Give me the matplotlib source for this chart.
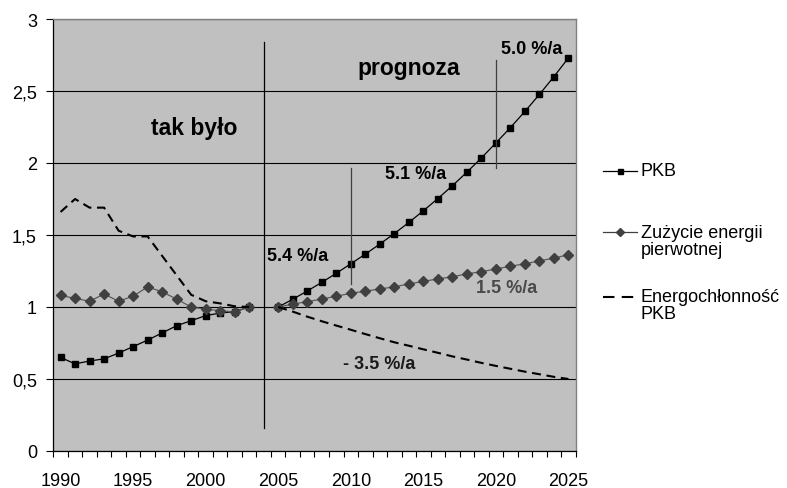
import matplotlib
matplotlib.use("Agg")
import matplotlib.pyplot as plt
from matplotlib.lines import Line2D

plt.rcParams['font.family'] = ['Liberation Sans', 'DejaVu Sans']

# ---- data (index, 2004 = 1) ----
lata_hist = list(range(1990, 2004))
lata_prog = list(range(2005, 2026))

pkb_hist = [0.65, 0.605, 0.625, 0.64, 0.68, 0.725, 0.77, 0.82, 0.87, 0.905,
            0.94, 0.958, 0.968, 1.0]
energia_hist = [1.08, 1.06, 1.04, 1.09, 1.04, 1.075, 1.14, 1.105, 1.055, 1.0,
                0.985, 0.975, 0.965, 1.0]
energochl_hist = [1.66, 1.75, 1.69, 1.69, 1.53, 1.49, 1.49, 1.355, 1.22, 1.085,
                  1.04, 1.025, 1.005, 1.0]

pkb_prog = [1.0, 1.054, 1.111, 1.171, 1.234, 1.30, 1.367, 1.437, 1.510, 1.587,
            1.668, 1.753, 1.842, 1.936, 2.035, 2.139, 2.246, 2.358, 2.476,
            2.60, 2.73]
energia_prog = [1.0, 1.02, 1.037, 1.055, 1.075, 1.095, 1.11, 1.125, 1.14, 1.16,
                1.178, 1.195, 1.21, 1.23, 1.245, 1.264, 1.283, 1.30, 1.32,
                1.34, 1.363]
energochl_prog = [1.0, 0.968, 0.933, 0.901, 0.871, 0.842, 0.812, 0.783, 0.755,
                  0.731, 0.706, 0.682, 0.657, 0.635, 0.612, 0.591, 0.571,
                  0.551, 0.533, 0.515, 0.50]

nazwy_serii = ["PKB", "Zużycie energii\npierwotnej", "Energochłonność\nPKB"]

x_ticks = [1990, 1995, 2000, 2005, 2010, 2015, 2020, 2025]
y_ticks = [0, 0.5, 1, 1.5, 2, 2.5, 3]
y_labels = ["0", "0,5", "1", "1,5", "2", "2,5", "3"]

rok_podzialu = 2004          # boundary between history and forecast
rok_zmiany = [2010, 2020]    # years where the growth rate changes

tempa = ["5.4 %/a", "5.1 %/a", "5.0 %/a", "1.5 %/a", "- 3.5 %/a"]

# ---- figure and axes ----
W, H = 787, 489
fig = plt.figure(figsize=(W / 100, H / 100), dpi=100)
fig.patch.set_facecolor("white")

ax = fig.add_axes([53.3 / W, 37 / H, 522.4 / W, 432 / H])
ax.set_facecolor("#c0c0c0")
ax.set_xlim(1989.5, 2025.5)
ax.set_ylim(0, 3)

for s in ("top", "right"):
    ax.spines[s].set_color("#808080")
    ax.spines[s].set_linewidth(1.0)
for s in ("left", "bottom"):
    ax.spines[s].set_color("#000000")
    ax.spines[s].set_linewidth(0.9)

ax.set_yticks(y_ticks, labels=y_labels)
ax.set_xticks(x_ticks, labels=[str(v) for v in x_ticks])
ax.set_xticks([v - 0.5 for v in range(1990, 2027)], minor=True)
ax.tick_params(axis="x", which="major", length=0, pad=15, labelsize=13)
ax.tick_params(axis="x", which="minor", length=4.3, width=0.8, direction="out")
ax.tick_params(axis="y", which="major", length=4.8, width=0.8, pad=7,
               labelsize=13, direction="out")
ax.yaxis.grid(True, color="black", linewidth=0.8)
ax.set_axisbelow(True)

pkb_style = dict(color="black", linewidth=0.9, marker="s", markersize=4.8,
                 markerfacecolor="black", markeredgecolor="black")
en_style = dict(color="#5a5a5a", linewidth=0.9, marker="D", markersize=4.6,
                markerfacecolor="#404040", markeredgecolor="#404040")
ec_style = dict(color="black", linewidth=1.5, linestyle=(0, (4.3, 2.7)))

ax.plot(lata_hist, pkb_hist, **pkb_style)
ax.plot(lata_prog, pkb_prog, **pkb_style)
ax.plot(lata_hist, energia_hist, **en_style)
ax.plot(lata_prog, energia_prog, **en_style)
ax.plot(lata_hist, energochl_hist, **ec_style)
ax.plot(lata_prog, energochl_prog, **ec_style)

# separators
ax.plot([rok_podzialu, rok_podzialu], [0.16, 2.84], color="black", linewidth=0.9)
ax.plot([rok_zmiany[0]] * 2, [1.16, 1.963], color="#404040", linewidth=0.9)
ax.plot([rok_zmiany[1]] * 2, [1.963, 2.717], color="#404040", linewidth=0.9)

# section titles
ax.text(2002.16, 2.201, "tak było", fontsize=16.5, fontweight="bold",
        ha="right", va="baseline")
ax.text(2010.43, 2.618, "prognoza", fontsize=16.5, fontweight="bold",
        ha="left", va="baseline")

# growth rate labels
rate_pos = [(2004.24, 1.326, "black"), (2012.36, 1.894, "black"),
            (2020.33, 2.762, "black"), (2018.63, 1.102, "#4a4a4a"),
            (2009.44, 0.574, "#1a1a1a")]
for txt, (xx, yy, c) in zip(tempa, rate_pos):
    ax.text(xx, yy, txt, fontsize=13, fontweight="bold", color=c,
            ha="left", va="baseline")


# legend drawn at the right-hand side
def fx(px):
    return px / W


def fy(py):
    return 1 - py / H


leg_rows = [171.7, 233.3, 298.0]
line_pitch = 17.0
handles = [
    dict(color="black", linewidth=0.9, marker="s", markersize=3.6,
         markerfacecolor="black", markeredgecolor="black"),
    dict(color="#404040", linewidth=0.9, marker="D", markersize=3.8,
         markerfacecolor="#404040", markeredgecolor="#404040"),
    dict(color="black", linewidth=1.5, linestyle=(0, (5.5, 3.5))),
]
for name, cy, st in zip(nazwy_serii, leg_rows, handles):
    x0, x1 = 603, 637
    fig.add_artist(Line2D([fx(x0), fx((x0 + x1) / 2), fx(x1)],
                          [fy(cy)] * 3, transform=fig.transFigure,
                          markevery=[1], **st))
    n_lines = name.count("\n") + 1
    cyc = cy + (n_lines - 1) * line_pitch / 2
    fig.text(fx(641), fy(cyc), name, fontsize=13, ha="left", va="center",
             linespacing=1.0)

fig.savefig("out.png", dpi=100, facecolor="white")
